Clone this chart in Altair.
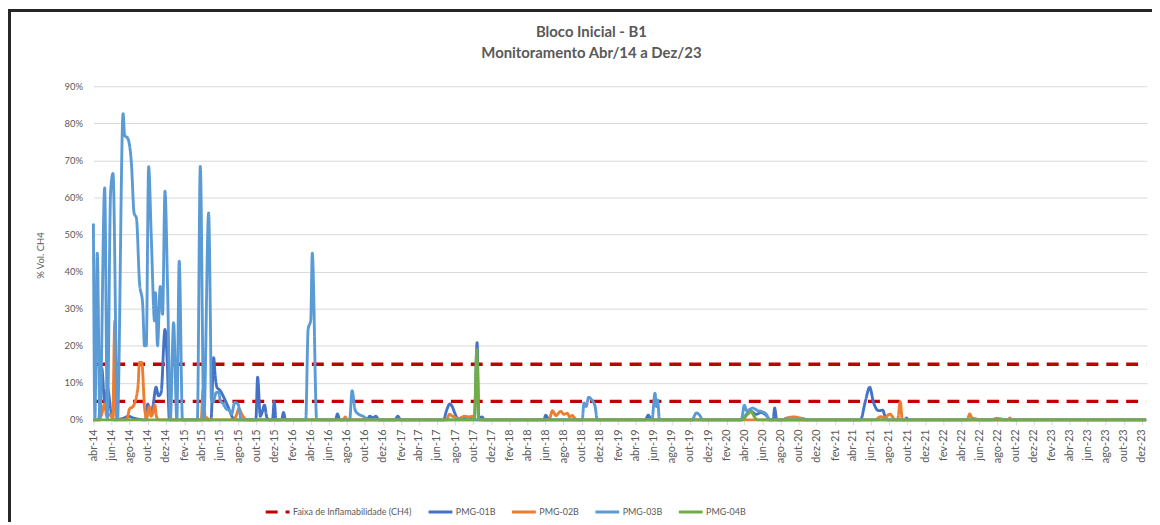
import altair as alt
import pandas as pd

SERIES = ["Faixa de Inflamabilidade (CH4)", "PMG-01B", "PMG-02B", "PMG-03B", "PMG-04B"]
COLORS = ["#C00000", "#4472C4", "#ED7D31", "#5B9BD5", "#70AD47"]
DASHES = [[12, 8], [1, 0], [1, 0], [1, 0], [1, 0]]

MONTHS_PT = ["jan", "fev", "mar", "abr", "mai", "jun", "jul", "ago", "set", "out", "nov", "dez"]
Y_TICKS = [0, 10, 20, 30, 40, 50, 60, 70, 80, 90]

limit_values = [5, 15]
limit_dates = ["2014-04-01", "2023-12-15"]

pmg01_dates = [
    "2014-04-01", "2014-04-19", "2014-04-29", "2014-05-09", "2014-05-19", "2014-05-29", "2014-06-08",
    "2014-07-12", "2014-07-28", "2014-08-14", "2014-09-23", "2014-10-01", "2014-10-10", "2014-10-18",
    "2014-10-29", "2014-11-06", "2014-11-15", "2014-11-28", "2014-12-05", "2014-12-13",
    "2015-05-02", "2015-05-11", "2015-05-16", "2015-05-22", "2015-06-01", "2015-06-17", "2015-07-04",
    "2015-07-15", "2015-08-01", "2015-09-30", "2015-10-06", "2015-10-15", "2015-10-21", "2015-10-29",
    "2015-11-05", "2015-11-12", "2015-11-25", "2015-12-01", "2015-12-07", "2015-12-26", "2016-01-01",
    "2016-01-08", "2016-06-24", "2016-07-01", "2016-07-08", "2016-10-08", "2016-10-18", "2016-10-28",
    "2016-11-07", "2016-11-17", "2017-01-10", "2017-01-20", "2017-01-30", "2017-06-23", "2017-07-03",
    "2017-07-14", "2017-07-23", "2017-07-31", "2017-08-09", "2017-08-26", "2017-09-08", "2017-09-24",
    "2017-10-05", "2017-10-14", "2017-10-20", "2017-10-31", "2017-11-07", "2018-05-27", "2018-06-02",
    "2018-06-09", "2018-06-19", "2019-05-03", "2019-05-14", "2019-05-20", "2019-05-26", "2020-03-25",
    "2020-04-08", "2020-04-24", "2020-05-10", "2020-05-27", "2020-06-14", "2020-06-27", "2020-07-07",
    "2020-07-12", "2020-07-19", "2021-04-27", "2021-05-14", "2021-05-28", "2021-06-10", "2021-06-27",
    "2021-07-11", "2021-07-19", "2021-07-27", "2021-09-22", "2021-09-29", "2021-10-06", "2023-12-15",
]
pmg01_values = [
    0, 0, 14, 5, 8.5, 3, 0,
    0.5, 1, 0.5, 0, 4.3, 2, 3.6,
    8.8, 6.5, 7.4, 24.4, 16.8, 0,
    0, 16.8, 12, 8.8, 8, 5.6, 2.5,
    0.5, 0, 0, 11.5, 1, 2, 4,
    1, 0, 0, 5, 0, 0, 2,
    0, 0, 1.6, 0, 0, 1, 0.5,
    1, 0, 0, 1, 0, 0, 2.5,
    4.3, 3.5, 1.8, 0.5, 0.3, 0.8, 0.5,
    0.5, 20.8, 0.5, 0.8, 0, 0, 1.3,
    0.5, 0, 0, 1.3, 0.3, 0, 0,
    1.5, 2.3, 1.5, 2, 1.2, 0, 0,
    3.2, 0, 0, 5.2, 8.8, 4.7, 2.5,
    2.6, 0.9, 0, 0, 0.5, 0, 0,
]

pmg02_dates = [
    "2014-04-01", "2014-04-19", "2014-04-28", "2014-05-09", "2014-05-16", "2014-05-26", "2014-06-05",
    "2014-06-12", "2014-06-17", "2014-07-22", "2014-08-01", "2014-08-12", "2014-08-29", "2014-09-03",
    "2014-09-11", "2014-09-20", "2014-09-27", "2014-10-07", "2014-10-12", "2014-10-18", "2014-10-25",
    "2014-10-30", "2014-11-06", "2015-03-30", "2015-04-05", "2015-04-12", "2015-04-19", "2015-04-25",
    "2015-07-18", "2015-07-25", "2015-08-04", "2015-08-14", "2015-08-24", "2015-09-03", "2016-07-20",
    "2016-07-27", "2016-08-02", "2017-07-03", "2017-07-13", "2017-07-23", "2017-07-30", "2017-08-12",
    "2017-09-01", "2017-09-15", "2017-09-28", "2017-10-08", "2018-06-13", "2018-06-25", "2018-07-06",
    "2018-07-23", "2018-08-02", "2018-08-14", "2018-08-22", "2018-08-31", "2018-09-08", "2018-09-18",
    "2020-08-07", "2020-08-20", "2020-09-16", "2020-10-02", "2020-10-19", "2020-10-29", "2021-06-17",
    "2021-07-03", "2021-07-17", "2021-08-05", "2021-08-13", "2021-08-23", "2021-08-30", "2021-09-08",
    "2021-09-15", "2022-04-21", "2022-04-30", "2022-05-08", "2022-05-21", "2022-05-31", "2022-07-14",
    "2022-07-27", "2022-08-13", "2022-08-23", "2022-09-05", "2022-09-12", "2022-09-19", "2023-12-15",
]
pmg02_values = [
    0, 0, 1.3, 4.3, 0.9, 1.5, 0.4,
    26.7, 0, 0, 3, 3.6, 8.8, 15.5,
    15.5, 3.6, 0.4, 3.6, 1, 1.7, 4,
    1, 0, 0, 8, 1, 0.5, 0,
    0, 1, 3, 1.5, 0.3, 0, 0,
    0.8, 0, 0, 1.5, 1, 0.8, 0.3,
    1, 0.8, 1, 0, 0, 2.5, 1.2,
    2.3, 1.5, 1.8, 0.8, 1.2, 0.4, 0,
    0, 0.5, 0.8, 0.6, 0.3, 0, 0,
    0.9, 0.6, 1.6, 0.8, 0, 0, 4.9,
    0, 0, 1.6, 0.5, 0.3, 0, 0,
    0.4, 0.3, 0, 0, 0.5, 0, 0,
]

pmg03_dates = [
    "2014-04-01", "2014-04-06", "2014-04-14", "2014-04-23", "2014-05-09", "2014-05-18", "2014-05-29",
    "2014-06-06", "2014-06-21", "2014-07-10", "2014-07-15", "2014-07-26", "2014-08-07", "2014-08-16",
    "2014-08-24", "2014-09-03", "2014-09-14", "2014-09-20", "2014-09-26", "2014-10-04", "2014-10-13",
    "2014-10-24", "2014-10-27", "2014-11-03", "2014-11-12", "2014-11-20", "2014-11-28", "2014-12-07",
    "2014-12-16", "2014-12-27", "2015-01-07", "2015-01-15", "2015-01-26", "2015-03-17", "2015-03-27",
    "2015-04-08", "2015-04-24", "2015-04-30", "2015-05-03", "2015-05-09", "2015-05-20", "2015-05-29",
    "2015-06-02", "2015-06-11", "2015-06-22", "2015-07-04", "2015-07-10", "2015-07-21", "2015-08-01",
    "2015-08-12", "2016-03-16", "2016-03-24", "2016-04-02", "2016-04-07", "2016-04-22", "2016-08-11",
    "2016-08-19", "2016-08-30", "2016-09-11", "2016-09-25", "2016-10-15", "2018-10-03", "2018-10-09",
    "2018-10-16", "2018-10-25", "2018-11-06", "2018-11-15", "2018-11-23", "2019-05-26", "2019-06-05",
    "2019-06-10", "2019-06-14", "2019-06-20", "2019-10-07", "2019-10-23", "2019-11-03", "2019-11-13",
    "2020-03-22", "2020-04-01", "2020-04-08", "2020-04-18", "2020-04-29", "2020-05-16", "2020-05-31",
    "2020-06-14", "2020-06-24", "2023-12-15",
]
pmg03_values = [
    53, 0, 45, 0, 62.6, 0, 61.6,
    66.5, 0, 82.6, 76.8, 75.9, 69.2, 55.8,
    54.4, 37.4, 31.1, 20, 20, 68.3, 49,
    26.7, 34.3, 20, 36, 28.5, 61.7, 34.7,
    0, 26.2, 0, 42.8, 0, 0, 68.4,
    0, 55.8, 27, 5.6, 4.8, 7.4, 7.4,
    5.2, 4.5, 3, 2.5, 1.5, 4.7, 4.3,
    0, 0, 24.4, 27, 45, 0, 0,
    7.9, 2.5, 1.5, 1, 0, 0, 4.6,
    3.6, 6.1, 5.2, 3.8, 0, 0, 7.2,
    3.6, 5.4, 0, 0, 1.9, 1.2, 0,
    0, 4, 2.5, 2.8, 3.2, 2.5, 2.2,
    1.5, 0, 0,
]

pmg04_dates = [
    "2014-04-01", "2017-10-05", "2017-10-13", "2017-10-20", "2020-03-25", "2020-04-07",
    "2020-04-24", "2020-05-05", "2020-05-15", "2023-12-15",
]
pmg04_values = [0, 0, 19, 0, 0, 1.1, 2.2, 0.8, 0, 0]

rows = []
for lv in limit_values:
    for d in limit_dates:
        rows.append({"series": SERIES[0], "grp": f"lim{lv}", "date": d, "value": lv})
for name, ds, vs in [
    ("PMG-01B", pmg01_dates, pmg01_values),
    ("PMG-02B", pmg02_dates, pmg02_values),
    ("PMG-03B", pmg03_dates, pmg03_values),
    ("PMG-04B", pmg04_dates, pmg04_values),
]:
    for d, v in zip(ds, vs):
        rows.append({"series": name, "grp": name, "date": d, "value": v})
df = pd.DataFrame(rows)

tick_dates = pd.date_range("2014-04-01", "2023-12-01", freq="2MS")
tick_ms = [int(t.value // 10**6) for t in tick_dates]
dom_ms = [int(pd.Timestamp("2014-04-01").value // 10**6), int(pd.Timestamp("2023-12-18").value // 10**6)]

month_arr = "[" + ",".join(f"'{m}'" for m in MONTHS_PT) + "]"
x_label_expr = month_arr + "[utcmonth(datum.value)] + '-' + utcFormat(datum.value, '%y')"

legend = alt.Legend(
    title=None, orient="none", direction="horizontal", legendX=172, legendY=415,
    symbolType="stroke", symbolSize=576, symbolStrokeWidth=3, labelFontSize=9,
    labelColor="#595959", labelOffset=2, columnPadding=10,
)

x_enc = alt.X(
    "date:T",
    scale=alt.Scale(type="utc", domain=dom_ms),
    axis=alt.Axis(
        title=None, values=tick_ms, labelExpr=x_label_expr, labelAngle=270,
        labelAlign="right", labelBaseline="middle", labelFontSize=11, labelColor="#595959",
        labelPadding=4, domainColor="#D9D9D9", tickColor="#D9D9D9", tickSize=5, grid=False,
        labelOverlap=False,
    ),
)
y_enc = alt.Y(
    "value:Q",
    scale=alt.Scale(domain=[0, 90], nice=False),
    axis=alt.Axis(
        title="% Vol. CH4", values=Y_TICKS, labelExpr="datum.value + '%'", labelFontSize=9.5,
        labelColor="#595959", labelPadding=11, domain=False, ticks=False, gridColor="#D9D9D9",
        titleFontSize=9.5, titleColor="#595959", titleFontWeight="normal", titleX=-53, titleY=170,
        titleAngle=270, titleAlign="center", titleBaseline="middle",
    ),
)
color_enc = alt.Color("series:N", scale=alt.Scale(domain=SERIES, range=COLORS), legend=legend)
dash_enc = alt.StrokeDash("series:N", scale=alt.Scale(domain=SERIES, range=DASHES), legend=legend)

base = alt.Chart(df)
limits = base.transform_filter(alt.datum.series == SERIES[0]).mark_line(strokeWidth=3.5).encode(
    x=x_enc, y=y_enc, color=color_enc, strokeDash=dash_enc, detail="grp:N"
)
layers = [limits]
for name in SERIES[1:]:
    layers.append(
        base.transform_filter(alt.datum.series == name)
        .mark_line(strokeWidth=2.9, interpolate="monotone")
        .encode(x=x_enc, y=y_enc, color=color_enc, strokeDash=dash_enc)
    )

frame_top = alt.Chart(df).mark_rule(color="#262626", strokeWidth=2.5).encode(
    x=alt.value(-86), x2=alt.value(1080), y=alt.value(-76)
)
frame_left = alt.Chart(df).mark_rule(color="#262626", strokeWidth=2.5).encode(
    x=alt.value(-85), y=alt.value(-77), y2=alt.value(440)
)

chart = alt.layer(*layers, frame_top, frame_left).properties(
    width=1061,
    height=336,
    autosize=alt.AutoSizeParams(type="none"),
    padding={"left": 86, "top": 77, "right": 5, "bottom": 101},
    title=alt.TitleParams(
        text=["Bloco Inicial - B1", "Monitoramento Abr/14 a Dez/23"], fontSize=15, font="Lato",
        fontWeight="bold", color="#595959", anchor="middle", frame="group", dx=-29, dy=53,
        offset=0, lineHeight=21,
    ),
).configure(font="Lato").configure_view(stroke=None)

chart.save("out.html", embed_options={"renderer": "svg", "actions": False})
